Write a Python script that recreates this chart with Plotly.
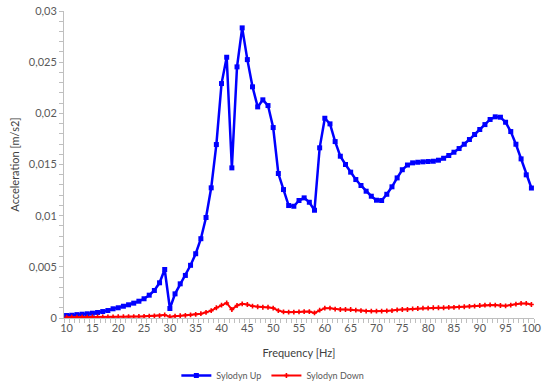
import plotly.graph_objects as go

freq = list(range(10, 101))

sylodyn_up = [
    0.00024, 0.00027, 0.00033, 0.00037, 0.00041, 0.00047, 0.00054, 0.00063, 0.00073, 0.0009,
    0.001, 0.00115, 0.00129, 0.00145, 0.00164, 0.00188, 0.00223, 0.00269, 0.00344, 0.00474,
    0.00093, 0.00236, 0.00334, 0.00416, 0.00515, 0.00628, 0.00775, 0.00982, 0.01272, 0.01695,
    0.02291, 0.02548, 0.01467, 0.02454, 0.02835, 0.02525, 0.02259, 0.02063, 0.02132, 0.02076,
    0.01861, 0.01412, 0.01255, 0.01099, 0.01092, 0.01148, 0.01174, 0.01131, 0.01053, 0.01663,
    0.01952, 0.01897, 0.01724, 0.01581, 0.015, 0.01425, 0.01353, 0.01295, 0.01239, 0.0119,
    0.01151, 0.01148, 0.01209, 0.01282, 0.01369, 0.01449, 0.01495, 0.01516, 0.01522, 0.01526,
    0.01529, 0.01532, 0.01542, 0.01561, 0.01588, 0.0162, 0.01656, 0.01698, 0.01744, 0.01793,
    0.01842, 0.0189, 0.0194, 0.01966, 0.01962, 0.01913, 0.01822, 0.01698, 0.01555, 0.01399,
    0.0127,
]

sylodyn_down = [
    0.00008, 0.00008, 0.00008, 0.00009, 0.00009, 0.0001, 0.0001, 0.0001, 0.00011, 0.00011,
    0.00012, 0.00012, 0.00013, 0.00014, 0.00015, 0.00016, 0.00018, 0.0002, 0.00023, 0.0003,
    0.00012, 0.00018, 0.00022, 0.00026, 0.0003, 0.00035, 0.00042, 0.00055, 0.00072, 0.001,
    0.00125, 0.00147, 0.00083, 0.00122, 0.00138, 0.00132, 0.00116, 0.0011, 0.00105, 0.00105,
    0.00097, 0.00073, 0.0006, 0.00057, 0.00057, 0.0006, 0.00063, 0.00063, 0.0005, 0.00076,
    0.00096, 0.00096, 0.00086, 0.00083, 0.00083, 0.00083, 0.00076, 0.00073, 0.00067, 0.00067,
    0.00067, 0.00067, 0.0007, 0.00073, 0.0008, 0.00083, 0.00083, 0.0009, 0.00093, 0.00096,
    0.00096, 0.001, 0.001, 0.001, 0.00103, 0.00103, 0.00106, 0.0011, 0.00113, 0.00116,
    0.00122, 0.00126, 0.00129, 0.00126, 0.00122, 0.00119, 0.00126, 0.00135, 0.00142, 0.00142,
    0.00132,
]

x_ticks = list(range(10, 101, 5))
y_ticks = [0, 0.005, 0.01, 0.015, 0.02, 0.025, 0.03]
y_labels = ["0", "0,005", "0,01", "0,015", "0,02", "0,025", "0,03"]

font_family = "Lato, Carlito, 'Open Sans', sans-serif"
axis_grey = "#BFBFBF"
text_grey = "#595959"

fig = go.Figure()
fig.add_trace(go.Scatter(
    x=freq, y=sylodyn_up, mode="lines+markers", name="Sylodyn Up",
    line=dict(color="#0000FF", width=2.5),
    marker=dict(symbol="square", size=5, color="#0000FF"),
))
fig.add_trace(go.Scatter(
    x=freq, y=sylodyn_down, mode="lines+markers", name="Sylodyn Down",
    line=dict(color="#FF0000", width=2),
    marker=dict(symbol="cross", size=4, color="#FF0000"),
))

fig.update_layout(
    width=549, height=390,
    margin=dict(l=64, r=15, t=11, b=72),
    paper_bgcolor="white", plot_bgcolor="white",
    font=dict(family=font_family, size=11, color=text_grey),
    showlegend=True,
    legend=dict(
        orientation="h", xref="container", x=0.497, xanchor="center",
        yref="container", y=-0.004, yanchor="bottom",
        font=dict(size=9, color=text_grey), itemwidth=30,
        bgcolor="rgba(0,0,0,0)",
    ),
)

fig.update_xaxes(
    range=[9.5, 100.5], automargin=False,
    tickmode="array", tickvals=x_ticks, ticks="",
    showline=True, linecolor=axis_grey, linewidth=1,
    showgrid=False, zeroline=False,
    minor=dict(ticks="outside", tick0=0.5, dtick=1, ticklen=4, tickcolor=axis_grey, showgrid=False),
    tickfont=dict(size=11, color=text_grey),
    title=dict(text="Frequency [Hz]", font=dict(size=11, color="#404040"), standoff=16),
)

fig.update_yaxes(
    range=[0, 0.03], automargin=False,
    tickmode="array", tickvals=y_ticks, ticktext=y_labels,
    ticks="outside", ticklen=4, tickcolor=axis_grey,
    showline=True, linecolor=axis_grey, linewidth=1,
    showgrid=False, zeroline=False,
    minor=dict(ticks="outside", dtick=0.001, ticklen=4, tickcolor=axis_grey, showgrid=False),
    tickfont=dict(size=11, color=text_grey),
    title=dict(text="Acceleration [m/s2]", font=dict(size=11, color="#404040"), standoff=6),
)

# drop the default 8px page margin so the figure fills the window
fig.write_html(
    "out.html",
    config={"displayModeBar": False},
    post_script="document.body.style.margin='0';",
)
